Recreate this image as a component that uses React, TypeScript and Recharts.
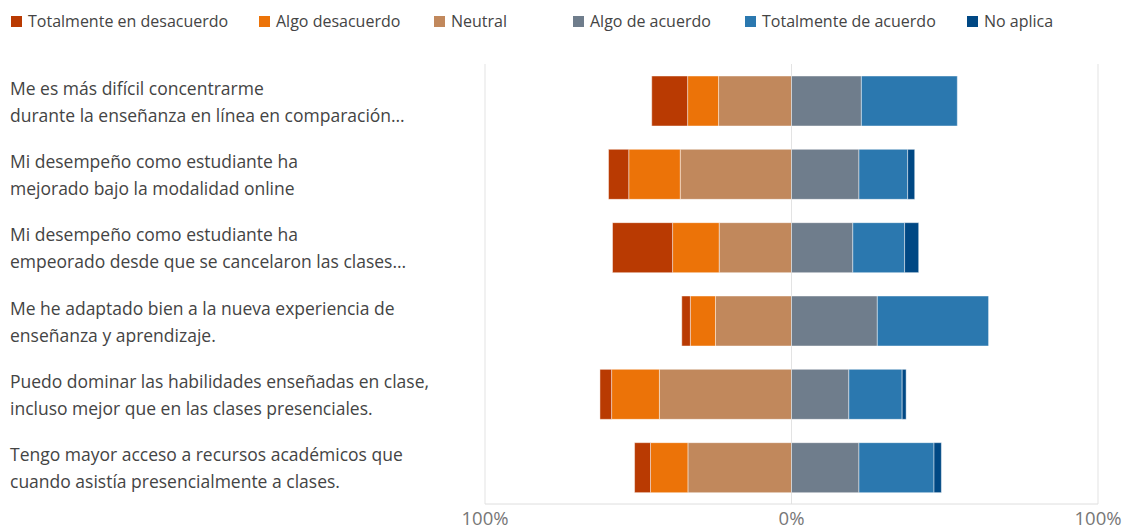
import React from "react";
import { BarChart, Bar, XAxis, YAxis, CartesianGrid } from "recharts";

const categories: string[][] = [
  ["Me es más difícil concentrarme", "durante la enseñanza en línea en comparación…"],
  ["Mi desempeño como estudiante ha", "mejorado bajo la modalidad online"],
  ["Mi desempeño como estudiante ha", "empeorado desde que se cancelaron las clases…"],
  ["Me he adaptado bien a la nueva experiencia de", "enseñanza y aprendizaje."],
  ["Puedo dominar las habilidades enseñadas en clase,", "incluso mejor que en las clases presenciales."],
  ["Tengo mayor acceso a recursos académicos que", "cuando asistía presencialmente a clases."],
];

const totalmenteDesacuerdo = [11.7, 6.6, 19.6, 2.8, 3.8, 5.2];
const algoDesacuerdo = [10.1, 16.8, 15.2, 8.2, 15.6, 12.2];
const neutral = [23.8, 36.3, 23.6, 24.8, 43.1, 33.8];
const algoAcuerdo = [22.8, 22.0, 20.0, 28.0, 18.7, 22.0];
const totalmenteAcuerdo = [31.3, 15.9, 16.9, 36.3, 17.4, 24.5];
const noAplica = [0, 2.3, 4.6, 0, 1.3, 2.4];

const xTicks = [-100, 0, 100];

const FONT = "'Open Sans', sans-serif";

const series = [
  { key: "td", name: "Totalmente en desacuerdo", color: "#B93A02" },
  { key: "ad", name: "Algo desacuerdo", color: "#EC7308" },
  { key: "ne", name: "Neutral", color: "#C1885C" },
  { key: "aa", name: "Algo de acuerdo", color: "#6F7D8C" },
  { key: "ta", name: "Totalmente de acuerdo", color: "#2B78AF" },
  { key: "na", name: "No aplica", color: "#004884" },
];

const legendLeft = [11, 259, 434, 573, 745, 967];

const data = categories.map((lines, i) => ({
  id: String(i),
  lines,
  td: -totalmenteDesacuerdo[i],
  ad: -algoDesacuerdo[i],
  ne: -neutral[i],
  aa: algoAcuerdo[i],
  ta: totalmenteAcuerdo[i],
  na: noAplica[i],
}));

const CategoryTick = (props: any) => {
  const { y, payload } = props;
  const lines = categories[Number(payload.value)];
  return (
    <g>
      <text x={10} y={y - 6} fill="#444" fontSize={17.5} fontFamily={FONT} textAnchor="start">
        {lines[0]}
      </text>
      <text x={10} y={y + 21} fill="#444" fontSize={17.5} fontFamily={FONT} textAnchor="start">
        {lines[1]}
      </text>
    </g>
  );
};

const LegendBlock = () => (
  <div style={{ position: "absolute", left: 0, top: 10, width: 1124, height: 22 }}>
    {series.map((s, i) => (
      <div
        key={s.key}
        style={{
          position: "absolute",
          left: legendLeft[i],
          top: 0,
          display: "flex",
          alignItems: "center",
          whiteSpace: "nowrap",
          fontFamily: FONT,
          fontSize: 16,
          color: "#444",
          lineHeight: "22px",
        }}
      >
        <span style={{ display: "inline-block", width: 11, height: 11, background: s.color, marginRight: 6 }} />
        {s.name}
      </div>
    ))}
  </div>
);

export default function App() {
  const order = ["ne", "ad", "td", "aa", "ta", "na"];
  return (
    <div style={{ position: "absolute", left: 0, top: 0, width: 1124, height: 530, background: "#fff" }}>
      <BarChart
        width={1124}
        height={530}
        data={data}
        layout="vertical"
        stackOffset="sign"
        margin={{ top: 64, right: 26, bottom: 0, left: 0 }}
      >
        <CartesianGrid horizontal={false} vertical stroke="#e3e3e3" />
        <XAxis
          type="number"
          domain={[-100, 100]}
          ticks={xTicks}
          tickFormatter={(v: number) => `${Math.abs(v)}%`}
          tickLine={false}
          axisLine={{ stroke: "#dedede" }}
          tick={{ fill: "#777", fontSize: 18.5, fontFamily: FONT }}
          height={26}
          tickMargin={2}
        />
        <YAxis
          type="category"
          dataKey="id"
          width={485}
          axisLine={false}
          tickLine={false}
          tick={<CategoryTick />}
          interval={0}
        />
        {order.map((k) => {
          const s = series.find((x) => x.key === k)!;
          return (
            <Bar
              key={k}
              dataKey={k}
              name={s.name}
              stackId="a"
              fill={s.color}
              stroke="rgba(255,255,255,0.45)"
              strokeWidth={1}
              barSize={50}
              isAnimationActive={false}
            />
          );
        })}
      </BarChart>
      <LegendBlock />
    </div>
  );
}
